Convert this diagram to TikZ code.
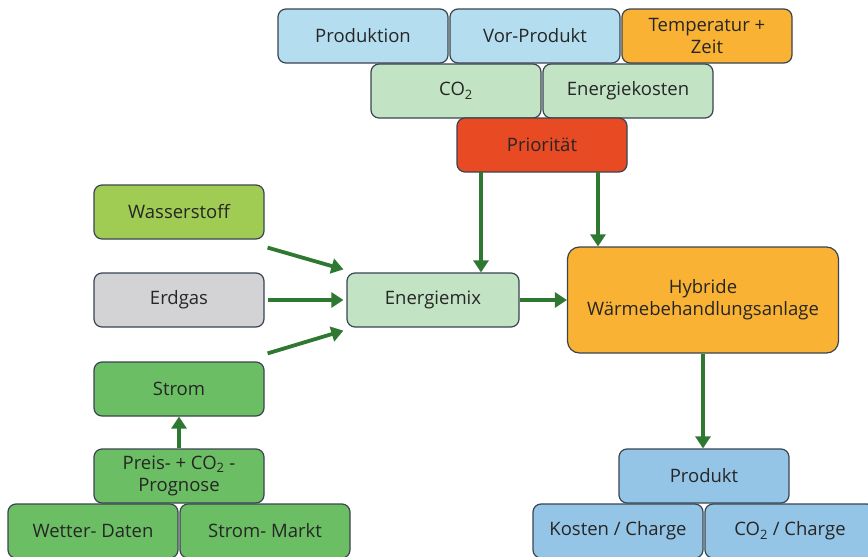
\documentclass[tikz,border=0pt]{standalone}
\usepackage{fontspec}
\setmainfont{Open Sans}[Ligatures=NoCommon]
\usetikzlibrary{arrows.meta}
\definecolor{hellblau}{HTML}{B4DEF0}
\definecolor{blau}{HTML}{95C5E6}
\definecolor{orange}{HTML}{F9B233}
\definecolor{hellgruen}{HTML}{C2E3C4}
\definecolor{rot}{HTML}{E84A24}
\definecolor{gelbgruen}{HTML}{A0CC54}
\definecolor{grau}{HTML}{D3D3D5}
\definecolor{gruen}{HTML}{6BBE64}
\definecolor{pfeil}{HTML}{2E7832}
\definecolor{rand}{HTML}{3A4450}

\begin{document}
\begin{tikzpicture}[x=1pt,y=-1pt]
\tikzstyle{box}=[draw=rand,line width=1.2pt,rounded corners=8pt,minimum width=170pt,minimum height=54pt,inner sep=2pt,align=center,font=\fontsize{18.5}{22}\selectfont,text=black!85]
\tikzstyle{pf}=[draw=pfeil,line width=3.8pt,-{Triangle[length=12pt,width=15pt]}]
\useasboundingbox (0,0) rectangle (868,557);
\clip (0,0) rectangle (868,557);
% oben
\node[box,fill=hellblau] (prod) at (363,36) {Produktion};
\node[box,fill=hellblau] (vor) at (535,36) {Vor-Produkt};
\node[box,fill=orange] (temp) at (707,36) {Temperatur +\\Zeit};
\node[box,fill=hellgruen] (co) at (456,91) {CO\textsubscript{2}};
\node[box,fill=hellgruen] (kosten) at (628,91) {Energiekosten};
\node[box,fill=rot] (prio) at (542,145) {Priorität};
% links
\node[box,fill=gelbgruen] (wasser) at (179,212) {Wasserstoff};
\node[box,fill=grau] (erdgas) at (179,300) {Erdgas};
\node[box,fill=gruen] (strom) at (179,389) {Strom};
\node[box,fill=gruen] (prognose) at (179,476) {Preis- + CO\textsubscript{2} -\\Prognose};
\node[box,fill=gruen] (wetter) at (93,531) {Wetter- Daten};
\node[box,fill=gruen] (markt) at (265,531) {Strom- Markt};
% mitte / rechts
\node[box,fill=hellgruen,minimum width=172pt] (mix) at (433,300) {Energiemix};
\node[box,fill=orange,minimum width=271pt,minimum height=106pt,rounded corners=12pt] (anlage) at (703,300) {Hybride\\Wärmebehandlungsanlage};
\node[box,fill=blau] (produkt) at (704,476) {Produkt};
\node[box,fill=blau] (kc) at (618,531) {Kosten / Charge};
\node[box,fill=blau] (cc) at (790,531) {CO\textsubscript{2} / Charge};
% Pfeile
\coordinate (p1) at (481,172);
\coordinate (p2) at (598,172);
\draw[pf] (p1) -- (p1 |- mix.north);
\draw[pf] (p2) -- (p2 |- anlage.north);
\draw[pf] ([xshift=3pt,yshift=-8pt]wasser.south east) -- ([xshift=-3pt,yshift=3pt]mix.north west);
\draw[pf] ([xshift=3pt]erdgas.east) -- ([xshift=-3pt]mix.west);
\draw[pf] ([xshift=3pt,yshift=8pt]strom.north east) -- ([xshift=-3pt,yshift=-3pt]mix.south west);
\draw[pf] (mix.east) -- (anlage.west);
\draw[pf] (anlage.south) -- (anlage.south |- produkt.north);
\draw[pf] (prognose.north) -- (strom.south);
\end{tikzpicture}
\end{document}
